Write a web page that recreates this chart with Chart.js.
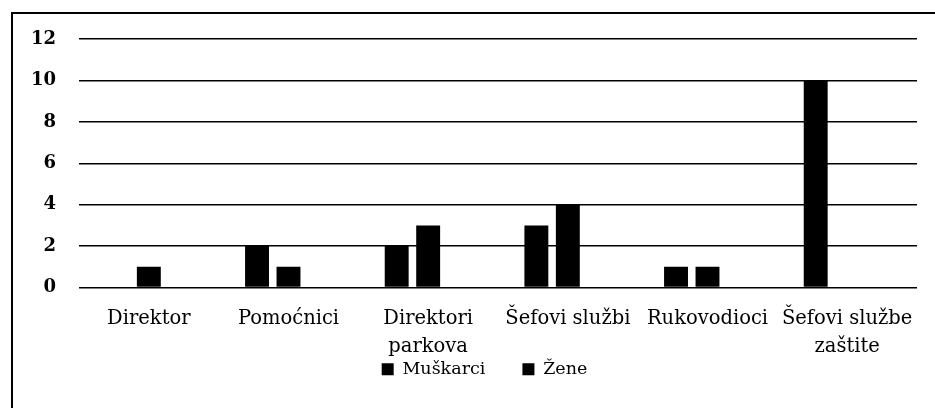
<!DOCTYPE html>
<html>
<head>
<meta charset="utf-8">
<script src="https://cdn.jsdelivr.net/npm/chart.js@4/dist/chart.umd.min.js"></script>
<style>
  html, body { margin: 0; padding: 0; background: #fff; overflow: hidden; }
  #wrap { position: relative; width: 935px; height: 408px; }
  #frame { position: absolute; left: 11px; top: 12px; width: 1000px; height: 1000px;
           border-left: 2px solid #000; border-top: 2px solid #000; pointer-events: none; }
</style>
</head>
<body>
<div id="wrap">
  <canvas id="chart"></canvas>
  <div id="frame"></div>
</div>
<script>
// categories and values
const categories = ['Direktor', 'Pomoćnici', ['Direktori', 'parkova'], 'Šefovi službi', 'Rukovodioci', ['Šefovi službe', 'zaštite']];
const muskarci = [0, 2, 2, 3, 1, 10];
const zene = [1, 1, 3, 4, 1, 0];
// the original had a third, empty series that still takes its slot
const prazno = [null, null, null, null, null, null];
const yTicks = [0, 2, 4, 6, 8, 10, 12];

const serif = 'DejaVu Serif';

new Chart(document.getElementById('chart'), {
  type: 'bar',
  data: {
    labels: categories,
    datasets: [
      { label: 'Muškarci', data: muskarci, backgroundColor: '#000' },
      { label: 'Žene', data: zene, backgroundColor: '#000' },
      { label: '', data: prazno, backgroundColor: 'rgba(0,0,0,0)', borderWidth: 0 }
    ]
  },
  options: {
    responsive: true,
    maintainAspectRatio: false,
    animation: false,
    categoryPercentage: 0.676,
    barPercentage: 0.76,
    layout: { padding: { left: 52, right: 18, top: 39, bottom: 20 } },
    plugins: {
      tooltip: { enabled: false },
      legend: {
        position: 'bottom',
        labels: {
          color: '#000',
          font: { family: serif, size: 17.5 },
          boxWidth: 12,
          boxHeight: 12,
          padding: 37,
          filter: item => item.text !== ''
        }
      }
    },
    scales: {
      x: {
        grid: { display: false },
        border: { display: false },
        ticks: {
          color: '#000',
          font: { family: serif, size: 19.5, lineHeight: 1.4 },
          maxRotation: 0,
          autoSkip: false,
          padding: 10
        },
        afterFit: s => {
          s.height = 36;
          // let the second label line run below the shortened axis box
          s._computeLabelArea = () => undefined;
        }
      },
      y: {
        min: 0,
        max: 12,
        afterBuildTicks: s => { s.ticks = yTicks.map(v => ({ value: v })); },
        grid: { color: '#000', lineWidth: 1.5, drawTicks: false },
        border: { display: false },
        ticks: {
          color: '#000',
          font: { family: serif, size: 18, weight: 'bold' },
          padding: 23
        },
        afterFit: s => {
          s.width = 27;
          s._computeLabelArea = () => undefined;
        }
      }
    }
  }
});
</script>
</body>
</html>
